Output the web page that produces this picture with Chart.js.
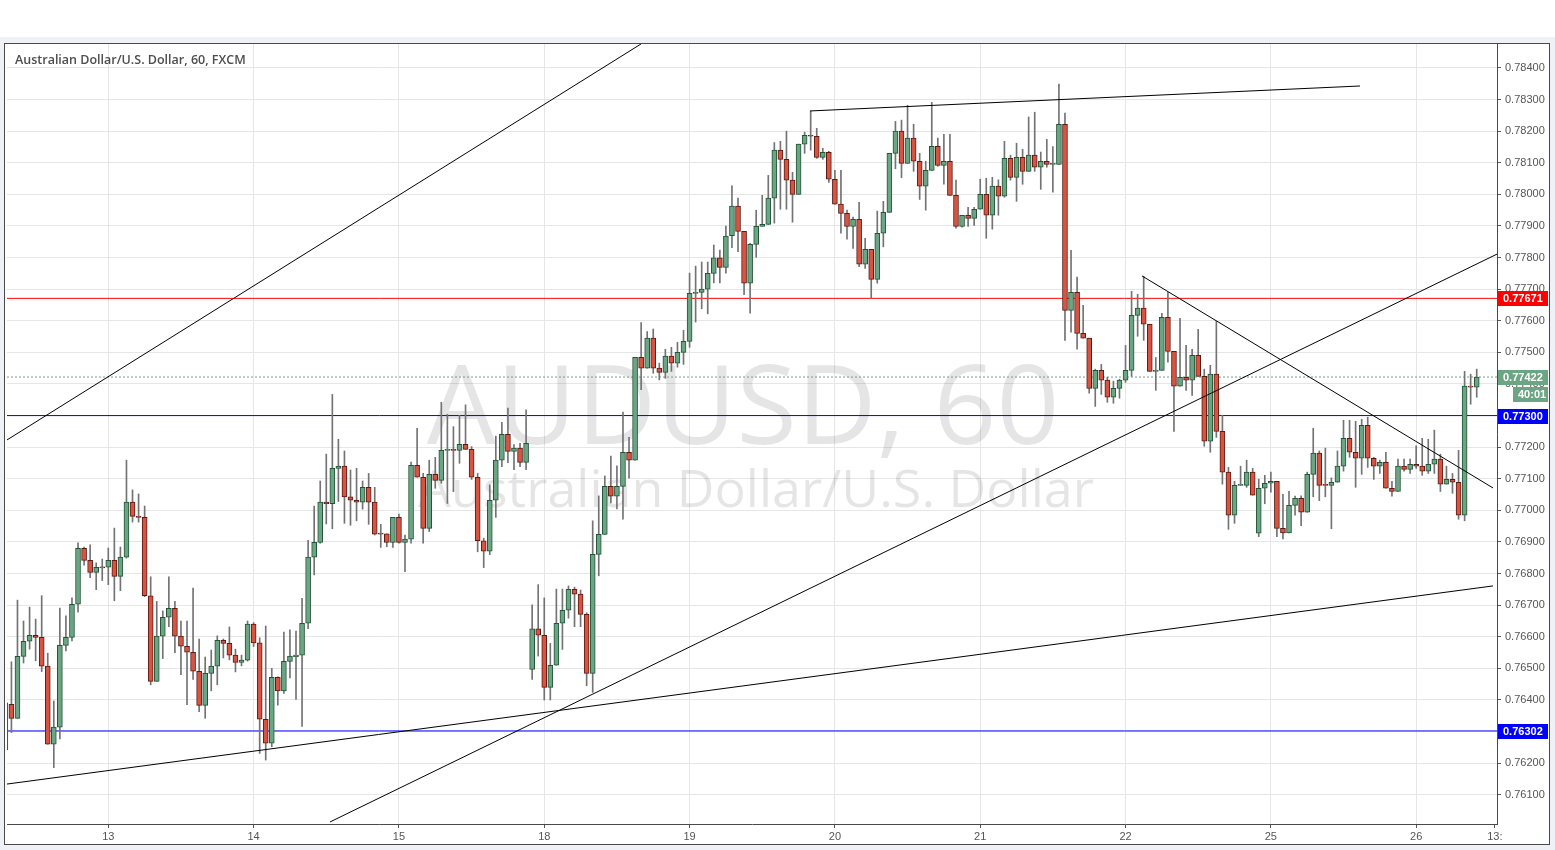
<!DOCTYPE html>
<html>
<head>
<meta charset="utf-8">
<script src="https://cdn.jsdelivr.net/npm/chart.js@4.4.1/dist/chart.umd.min.js"></script>
<style>
  html, body { margin: 0; padding: 0; background: #eef1f6; }
  #wrap { position: relative; width: 1555px; height: 850px; }
</style>
</head>
<body>
<div id="wrap"><canvas id="chart" width="1555" height="850"></canvas></div>
<script>
/* AUDUSD 60 min, FXCM — candles, one per hour slot.
   Slot 18 = 13th 00:00, each day is 24 slots. */

const opens = [
  0.76242,0.76386,0.76342,0.76538,0.76586,0.76605,0.76598,0.76507,0.76260,0.76314,0.76573,0.76598,
  0.76703,0.76880,0.76842,0.76804,0.76820,0.76820,0.76842,0.76791,0.76852,0.77026,0.76981,0.76978,
  0.76730,0.76459,0.76602,0.76662,0.76690,0.76602,0.76570,0.76551,0.76491,0.76383,0.76484,0.76507,
  0.76589,0.76579,0.76542,0.76519,0.76526,0.76640,0.76581,0.76339,0.76263,0.76472,0.76429,0.76522,
  0.76537,0.76542,0.76643,0.76852,0.76899,0.77026,0.77021,0.77133,0.77140,0.77043,0.77032,0.77026,
  0.77073,0.77026,0.76928,0.76926,0.76899,0.76978,0.76899,0.76909,0.77143,0.77105,0.76943,0.77114,
  0.77095,0.77190,0.77193,0.77190,0.77209,0.77193,0.77105,0.76904,0.76871,0.77032,0.77159,0.77241,
  0.77187,0.77197,0.77152,0.76497,0.76625,0.76605,0.76440,0.76510,0.76643,0.76684,0.76750,0.76735,
  0.76671,0.76484,0.76861,0.76924,0.77076,0.77045,0.77076,0.77184,0.77159,0.77484,0.77450,0.77545,
  0.77450,0.77437,0.77488,0.77466,0.77500,0.77535,0.77687,0.77690,0.77700,0.77750,0.77799,0.77769,
  0.77869,0.77963,0.77883,0.77719,0.77842,0.77899,0.77905,0.77988,0.78140,0.78111,0.78045,0.78000,
  0.78159,0.78187,0.78184,0.78117,0.78133,0.78048,0.77969,0.77940,0.77899,0.77921,0.77779,0.77826,
  0.77731,0.77877,0.77943,0.78130,0.78200,0.78098,0.78178,0.78105,0.78026,0.78076,0.78152,0.78092,
  0.78105,0.77997,0.77899,0.77934,0.77924,0.77953,0.78000,0.77934,0.78026,0.77994,0.78114,0.78054,
  0.78117,0.78073,0.78124,0.78086,0.78105,0.78095,0.78095,0.78222,0.77633,0.77690,0.77560,0.77545,
  0.77386,0.77443,0.77412,0.77358,0.77386,0.77412,0.77443,0.77617,0.77640,0.77589,0.77440,0.77443,
  0.77611,0.77503,0.77393,0.77421,0.77412,0.77491,0.77424,0.77219,0.77431,0.77250,0.77121,0.76985,
  0.77079,0.77079,0.77121,0.76928,0.77070,0.77086,0.77092,0.76943,0.76929,0.77016,0.77038,0.76994,
  0.77114,0.77181,0.77080,0.77079,0.77089,0.77140,0.77228,0.77184,0.77165,0.77269,0.77165,0.77140,
  0.77152,0.77070,0.77060,0.77140,0.77130,0.77146,0.77140,0.77124,0.77146,0.77162,0.77083,0.77098,
  0.77089,0.76985,0.77393,0.77390
];
const highs = [
  0.76406,0.76521,0.76716,0.76650,0.76694,0.76656,0.76730,0.76548,0.76397,0.76691,0.76666,0.76723,
  0.76897,0.76884,0.76891,0.76834,0.76846,0.76881,0.76944,0.76884,0.77159,0.77065,0.77052,0.77014,
  0.76790,0.76712,0.76682,0.76790,0.76712,0.76650,0.76650,0.76754,0.76593,0.76536,0.76558,0.76603,
  0.76593,0.76631,0.76561,0.76542,0.76650,0.76645,0.76597,0.76634,0.76500,0.76473,0.76615,0.76622,
  0.76618,0.76722,0.76905,0.77014,0.77093,0.77178,0.77367,0.77225,0.77188,0.77128,0.77133,0.77093,
  0.77117,0.77073,0.76956,0.76926,0.76978,0.76988,0.76922,0.77153,0.77260,0.77117,0.77159,0.77168,
  0.77342,0.77304,0.77265,0.77301,0.77334,0.77202,0.77117,0.76912,0.77081,0.77235,0.77279,0.77324,
  0.77208,0.77212,0.77318,0.76701,0.76765,0.76723,0.76579,0.76751,0.76751,0.76761,0.76757,0.76748,
  0.76676,0.76967,0.77046,0.77109,0.77172,0.77141,0.77311,0.77231,0.77484,0.77594,0.77566,0.77574,
  0.77466,0.77510,0.77516,0.77532,0.77570,0.77751,0.77773,0.77786,0.77786,0.77840,0.77824,0.77900,
  0.78027,0.77988,0.77883,0.77845,0.77950,0.77997,0.78060,0.78164,0.78168,0.78200,0.78070,0.78159,
  0.78197,0.78263,0.78209,0.78146,0.78136,0.78076,0.78076,0.77950,0.77928,0.77975,0.77861,0.77826,
  0.77947,0.77978,0.78130,0.78231,0.78235,0.78282,0.78222,0.78130,0.78105,0.78291,0.78178,0.78190,
  0.78190,0.78045,0.77934,0.77959,0.77959,0.78048,0.78051,0.78054,0.78046,0.78168,0.78124,0.78162,
  0.78143,0.78245,0.78260,0.78134,0.78174,0.78151,0.78349,0.78257,0.77823,0.77738,0.77649,0.77545,
  0.77447,0.77462,0.77421,0.77409,0.77415,0.77522,0.77693,0.77684,0.77741,0.77589,0.77484,0.77624,
  0.77690,0.77503,0.77608,0.77522,0.77510,0.77573,0.77447,0.77459,0.77598,0.77301,0.77136,0.77092,
  0.77140,0.77159,0.77133,0.77099,0.77111,0.77121,0.77092,0.77051,0.77060,0.77045,0.77046,0.77121,
  0.77260,0.77188,0.77197,0.77103,0.77188,0.77285,0.77285,0.77282,0.77288,0.77295,0.77168,0.77159,
  0.77184,0.77092,0.77162,0.77162,0.77162,0.77204,0.77228,0.77225,0.77254,0.77178,0.77140,0.77117,
  0.77190,0.77440,0.77431,0.77447
];
const lows = [
  0.76235,0.76297,0.76342,0.76517,0.76561,0.76524,0.76490,0.76260,0.76186,0.76277,0.76555,0.76587,
  0.76678,0.76827,0.76787,0.76749,0.76778,0.76765,0.76714,0.76746,0.76849,0.76963,0.76963,0.76727,
  0.76448,0.76459,0.76531,0.76632,0.76550,0.76480,0.76385,0.76465,0.76363,0.76342,0.76429,0.76448,
  0.76533,0.76527,0.76489,0.76508,0.76523,0.76569,0.76231,0.76210,0.76252,0.76384,0.76421,0.76470,
  0.76402,0.76316,0.76626,0.76796,0.76896,0.76957,0.76942,0.77028,0.76959,0.76953,0.76967,0.77004,
  0.76956,0.76922,0.76883,0.76885,0.76883,0.76896,0.76806,0.76896,0.77105,0.76896,0.76933,0.77070,
  0.77086,0.77022,0.77059,0.77149,0.77193,0.77098,0.76869,0.76819,0.76860,0.76978,0.77138,0.77151,
  0.77129,0.77138,0.77129,0.76465,0.76539,0.76400,0.76400,0.76510,0.76560,0.76659,0.76632,0.76632,
  0.76445,0.76424,0.76793,0.76924,0.77024,0.77005,0.76972,0.77102,0.77159,0.77382,0.77450,0.77434,
  0.77413,0.77418,0.77440,0.77453,0.77462,0.77516,0.77596,0.77638,0.77622,0.77720,0.77720,0.77751,
  0.77831,0.77819,0.77683,0.77624,0.77801,0.77899,0.77905,0.77909,0.77953,0.77953,0.77912,0.78000,
  0.78130,0.78140,0.78114,0.78111,0.78038,0.77969,0.77877,0.77858,0.77829,0.77771,0.77766,0.77671,
  0.77719,0.77834,0.77943,0.78081,0.78053,0.78098,0.78073,0.77984,0.77950,0.78076,0.78089,0.78032,
  0.77997,0.77893,0.77896,0.77899,0.77902,0.77953,0.77861,0.77890,0.77934,0.77991,0.78045,0.77978,
  0.78032,0.78073,0.78073,0.78016,0.78086,0.78007,0.78095,0.77538,0.77564,0.77510,0.77545,0.77371,
  0.77329,0.77367,0.77342,0.77339,0.77355,0.77405,0.77424,0.77551,0.77538,0.77440,0.77380,0.77443,
  0.77469,0.77250,0.77393,0.77380,0.77364,0.77424,0.77203,0.77184,0.77231,0.77083,0.76940,0.76959,
  0.77079,0.77073,0.77048,0.76917,0.77021,0.77058,0.76917,0.76910,0.76929,0.76985,0.76952,0.76994,
  0.77043,0.77031,0.77043,0.76942,0.77089,0.77124,0.77168,0.77073,0.77114,0.77136,0.77098,0.77117,
  0.77070,0.77045,0.77060,0.77124,0.77117,0.77133,0.77111,0.77117,0.77117,0.77060,0.77083,0.77054,
  0.76972,0.76967,0.77336,0.77358
];
const closes = [
  0.76391,0.76342,0.76538,0.76586,0.76605,0.76598,0.76507,0.76260,0.76314,0.76573,0.76598,0.76703,
  0.76880,0.76842,0.76804,0.76820,0.76818,0.76842,0.76791,0.76852,0.77026,0.76981,0.76978,0.76730,
  0.76459,0.76602,0.76662,0.76690,0.76602,0.76570,0.76551,0.76491,0.76383,0.76484,0.76507,0.76589,
  0.76579,0.76542,0.76519,0.76526,0.76640,0.76581,0.76339,0.76263,0.76472,0.76429,0.76522,0.76539,
  0.76542,0.76643,0.76852,0.76899,0.77026,0.77021,0.77133,0.77140,0.77043,0.77032,0.77026,0.77073,
  0.77026,0.76925,0.76925,0.76899,0.76978,0.76899,0.76909,0.77143,0.77105,0.76943,0.77114,0.77095,
  0.77190,0.77193,0.77190,0.77209,0.77193,0.77105,0.76904,0.76871,0.77032,0.77159,0.77241,0.77187,
  0.77197,0.77152,0.77212,0.76625,0.76605,0.76440,0.76510,0.76643,0.76684,0.76750,0.76735,0.76671,
  0.76484,0.76861,0.76924,0.77076,0.77045,0.77076,0.77184,0.77159,0.77484,0.77450,0.77545,0.77450,
  0.77437,0.77488,0.77466,0.77500,0.77535,0.77687,0.77690,0.77700,0.77750,0.77799,0.77769,0.77868,
  0.77963,0.77883,0.77719,0.77842,0.77899,0.77905,0.77988,0.78140,0.78111,0.78045,0.78000,0.78159,
  0.78187,0.78184,0.78117,0.78133,0.78048,0.77969,0.77940,0.77899,0.77921,0.77779,0.77826,0.77731,
  0.77877,0.77943,0.78130,0.78200,0.78098,0.78178,0.78105,0.78026,0.78076,0.78152,0.78092,0.78105,
  0.77997,0.77899,0.77934,0.77924,0.77953,0.78000,0.77934,0.78026,0.77994,0.78114,0.78054,0.78117,
  0.78073,0.78124,0.78086,0.78105,0.78095,0.78096,0.78222,0.77633,0.77690,0.77560,0.77545,0.77386,
  0.77443,0.77412,0.77358,0.77386,0.77412,0.77443,0.77617,0.77640,0.77589,0.77440,0.77443,0.77611,
  0.77503,0.77393,0.77421,0.77412,0.77491,0.77424,0.77219,0.77431,0.77250,0.77121,0.76985,0.77079,
  0.77080,0.77121,0.77048,0.77070,0.77086,0.77092,0.76943,0.76929,0.77016,0.77038,0.76994,0.77114,
  0.77181,0.77079,0.77079,0.77089,0.77140,0.77228,0.77184,0.77165,0.77269,0.77165,0.77140,0.77152,
  0.77070,0.77060,0.77140,0.77130,0.77146,0.77140,0.77124,0.77146,0.77162,0.77083,0.77098,0.77089,
  0.76985,0.77393,0.77390,0.77422
];

// time axis: slot of each day start, and the label shown there
const dayTicks  = [18, 42, 66, 90, 114, 138, 162, 186, 210, 234, 247];
const dayLabels = ['13', '14', '15', '18', '19', '20', '21', '22', '25', '26', '13:'];

// price axis
const priceTicks = [0.761, 0.762, 0.763, 0.764, 0.765, 0.766, 0.767, 0.768, 0.769, 0.770, 0.771, 0.772,
                    0.773, 0.774, 0.775, 0.776, 0.777, 0.778, 0.779, 0.780, 0.781, 0.782, 0.783, 0.784];

// drawn trend lines: [slot1, price1, slot2, price2]
const trendLines = [
  [1.27, 0.77223, 105.98, 0.78476],
  [54.61, 0.76014, 247.35, 0.77811],
  [1.27, 0.76134, 246.69, 0.76761],
  [133.89, 0.78264, 224.72, 0.78343],
  [188.72, 0.77742, 246.69, 0.77071],
];

// horizontal levels and last price
const levelPrices = [0.77671, 0.77300, 0.76302];
const levelColors = ['#ff0000', '#0000ff', '#0000ff'];
const lastPrice = 0.77422;
const countdown = '40:01';

const C = {
  up: '#6ba583', upLine: '#225437', down: '#d75442', downLine: '#5b1a13',
  wick: '#737375', grid: '#e6e6e6', text: '#555555', frame: '#4a4a4a',
};
const X_MIN = 1.27, X_MAX = 247.35;
const Y_MIN = 0.760076, Y_MAX = 0.784759;

const slots = opens.map((_, i) => i + 1);
const up = slots.map((_, i) => closes[i] >= opens[i]);

const trendSets = trendLines.map((t) => ({
  type: 'line',
  data: [{ x: t[0], y: t[1] }, { x: t[2], y: t[3] }],
  borderColor: '#000000', borderWidth: 1, pointRadius: 0, order: 0,
}));
const levelSets = levelPrices.map((p, i) => ({
  type: 'line',
  data: [{ x: X_MIN, y: p }, { x: X_MAX, y: p }],
  borderColor: levelColors[i], borderWidth: 1, pointRadius: 0, order: 4,
}));
levelSets.push({
  type: 'line',
  data: [{ x: X_MIN, y: lastPrice }, { x: X_MAX, y: lastPrice }],
  borderColor: C.up, borderWidth: 1, borderDash: [2, 2], pointRadius: 0, order: 4,
});

/* ---------- plugins ---------- */
const frame = {
  id: 'frame',
  beforeDraw(chart) {
    const ctx = chart.ctx;
    ctx.save();
    ctx.fillStyle = '#eef1f6';
    ctx.fillRect(0, 0, chart.width, chart.height);
    ctx.fillStyle = '#ffffff';
    ctx.fillRect(0, 0, chart.width, 37);
    ctx.fillRect(4.5, 43.5, 1545, 801);
    ctx.strokeStyle = C.frame;
    ctx.lineWidth = 1;
    ctx.strokeRect(4.5, 43.5, 1545, 801);
    ctx.restore();
  },
};

const watermark = {
  id: 'watermark',
  beforeDatasetsDraw(chart) {
    const { ctx, chartArea: a } = chart;
    const cx = (a.left + a.right) / 2;
    ctx.save();
    ctx.fillStyle = 'rgba(0,0,0,0.1)';
    ctx.textAlign = 'center';
    ctx.textBaseline = 'alphabetic';
    ctx.font = '110px "Open Sans"';
    ctx.fillText('AUDUSD, 60', cx - 9, 444);
    ctx.font = '52px "Open Sans"';
    ctx.fillText('Australian Dollar/U.S. Dollar', cx + 4, 507);
    ctx.restore();
  },
};

function tag(ctx, y, text, bg, x0, w) {
  ctx.fillStyle = bg;
  ctx.fillRect(x0, Math.round(y) - 7, w, 15);
  ctx.fillStyle = '#ffffff';
  ctx.fillText(text, x0 + 5, Math.round(y) + 1);
}

const overlay = {
  id: 'overlay',
  afterDraw(chart) {
    const ctx = chart.ctx;
    const ys = chart.scales.y;
    const x0 = chart.chartArea.right + 1;
    ctx.save();
    ctx.font = '600 12.5px "Open Sans"';
    ctx.fillStyle = '#4d4d4d';
    ctx.textBaseline = 'middle';
    ctx.fillText('Australian Dollar/U.S. Dollar, 60, FXCM', 15, 60);

    ctx.font = 'bold 11px "Liberation Sans"';
    levelPrices.forEach((p, i) => tag(ctx, ys.getPixelForValue(p), p.toFixed(5), levelColors[i], x0, 50));
    const ly = ys.getPixelForValue(lastPrice);
    tag(ctx, ly, lastPrice.toFixed(5), C.up, x0, 50);
    tag(ctx, ly + 17, countdown, C.up, x0 + 15, 35);
    ctx.restore();
  },
};

/* ---------- chart ---------- */
new Chart(document.getElementById('chart'), {
  type: 'bar',
  data: {
    datasets: [
      ...trendSets,
      {
        data: slots.map((x, i) => ({ x, y: [opens[i], closes[i]] })),
        backgroundColor: up.map((u) => (u ? C.up : C.down)),
        borderColor: up.map((u) => (u ? C.upLine : C.downLine)),
        borderWidth: 1, borderSkipped: false, barThickness: 5, minBarLength: 1,
        grouped: false, order: 1,
      },
      {
        data: slots.map((x, i) => ({ x, y: [lows[i], highs[i]] })),
        backgroundColor: C.wick, borderWidth: 0, barThickness: 1,
        grouped: false, order: 2,
      },
      ...levelSets,
    ],
  },
  options: {
    responsive: false,
    animation: false,
    events: [],
    layout: { padding: { left: 7, top: 44, right: 6, bottom: 6 } },
    plugins: { legend: { display: false }, tooltip: { enabled: false } },
    scales: {
      x: {
        type: 'linear', min: X_MIN, max: X_MAX, offset: false,
        afterBuildTicks: (s) => { s.ticks = dayTicks.map((v) => ({ value: v })); },
        afterFit: (s) => { s.height = 20; },
        ticks: {
          autoSkip: false, maxRotation: 0, padding: 2, color: C.text,
          font: { family: 'Liberation Sans', size: 11 },
          callback: (v, i) => dayLabels[i],
        },
        grid: {
          offset: false, tickLength: 4, tickColor: C.text,
          color: (c) => (c.tick && c.tick.value === 247 ? 'rgba(0,0,0,0)' : C.grid),
        },
        border: { color: C.frame },
      },
      y: {
        type: 'linear', position: 'right', min: Y_MIN, max: Y_MAX,
        afterBuildTicks: (s) => { s.ticks = priceTicks.map((v) => ({ value: v })); },
        afterFit: (s) => { s.width = 52; },
        ticks: {
          padding: 4, color: C.text,
          font: { family: 'Liberation Sans', size: 11 },
          callback: (v) => v.toFixed(5),
        },
        grid: { tickLength: 4, tickColor: C.text, color: C.grid },
        border: { color: C.frame },
      },
    },
  },
  plugins: [frame, watermark, overlay],
});
</script>
</body>
</html>
